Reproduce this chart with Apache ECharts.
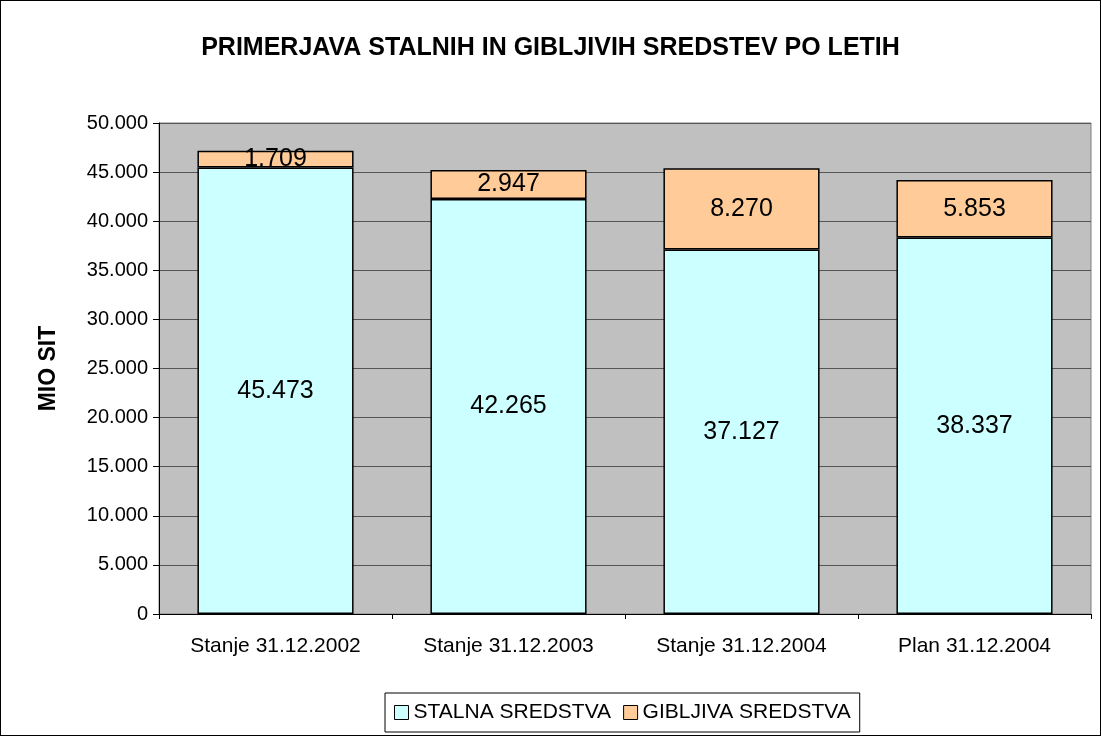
<!DOCTYPE html>
<html>
<head>
<meta charset="utf-8">
<script src="https://cdn.jsdelivr.net/npm/echarts@6/dist/echarts.min.js"></script>
<style>
  html, body { margin: 0; padding: 0; background: #fff; }
  #chart { width: 1099px; height: 734px; border: 1px solid #000; }
</style>
</head>
<body>
<div id="chart"></div>
<script>
const categories = ['Stanje 31.12.2002', 'Stanje 31.12.2003', 'Stanje 31.12.2004', 'Plan 31.12.2004'];
const stalna = [45473, 42265, 37127, 38337];
const gibljiva = [1709, 2947, 8270, 5853];

// 45473 -> "45.473"
function fmt(v) {
  return String(v).replace(/\B(?=(\d{3})+(?!\d))/g, '.');
}

const myChart = echarts.init(document.getElementById('chart'));
const option = {
  animation: false,
  textStyle: { fontFamily: 'Liberation Sans, Arial, sans-serif', color: '#000' },
  title: {
    text: 'PRIMERJAVA STALNIH IN GIBLJIVIH SREDSTEV PO LETIH',
    left: 'center',
    top: 30,
    textStyle: { fontSize: 25, fontWeight: 'bold', color: '#000' }
  },
  legend: {
    bottom: 3,
    left: 384,
    itemWidth: 14,
    itemHeight: 14,
    itemGap: 12,
    padding: [9, 9, 9, 9],
    borderColor: '#000',
    borderWidth: 1,
    icon: 'rect',
    textStyle: { fontSize: 21, color: '#000' },
    data: [
      { name: 'STALNA SREDSTVA', itemStyle: { borderColor: '#000', borderWidth: 1 } },
      { name: 'GIBLJIVA SREDSTVA', itemStyle: { borderColor: '#000', borderWidth: 1 } }
    ]
  },
  grid: {
    left: 158, right: 9, top: 122, bottom: 121,
    show: true,
    backgroundColor: '#c0c0c0',
    borderColor: '#808080',
    borderWidth: 1
  },
  xAxis: {
    type: 'category',
    data: categories,
    axisLine: { lineStyle: { color: '#000' } },
    axisTick: { show: true, length: 5, lineStyle: { color: '#000' } },
    axisLabel: { fontSize: 21, color: '#000', margin: 22 }
  },
  yAxis: {
    type: 'value',
    min: 0,
    max: 50000,
    interval: 5000,
    name: 'MIO SIT',
    nameLocation: 'middle',
    nameGap: 99,
    nameRotate: 90,
    nameTextStyle: { fontSize: 23, fontWeight: 'bold', color: '#000' },
    axisLine: { show: true, lineStyle: { color: '#000' } },
    axisTick: { show: true, length: 6, lineStyle: { color: '#000' } },
    axisLabel: { fontSize: 20, color: '#000', margin: 11, formatter: fmt },
    splitLine: { lineStyle: { color: '#555', width: 1 } }
  },
  series: [
    {
      name: 'STALNA SREDSTVA',
      type: 'bar',
      stack: 'total',
      barCategoryGap: '33%',
      data: stalna,
      itemStyle: { color: '#ccffff', borderColor: '#000', borderWidth: 1.5 },
      label: {
        show: true,
        position: 'inside',
        fontSize: 25,
        color: '#000',
        formatter: p => fmt(p.value)
      }
    },
    {
      name: 'GIBLJIVA SREDSTVA',
      type: 'bar',
      stack: 'total',
      barCategoryGap: '33%',
      data: gibljiva,
      itemStyle: { color: '#ffcc99', borderColor: '#000', borderWidth: 1.5 },
      label: {
        show: true,
        position: 'inside',
        fontSize: 25,
        color: '#000',
        formatter: p => fmt(p.value)
      }
    }
  ]
};
myChart.setOption(option);
</script>
</body>
</html>
